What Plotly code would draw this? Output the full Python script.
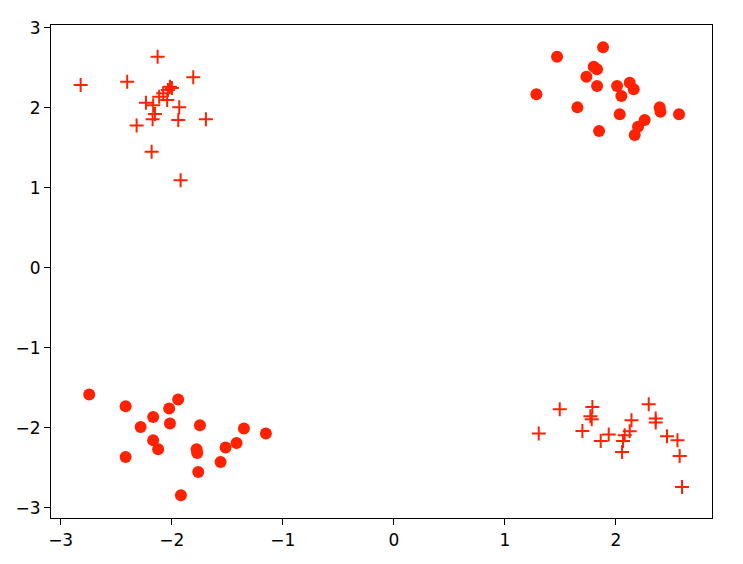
import plotly.graph_objects as go

# cluster data
plus_tl_x = [-2.127, -2.820, -2.401, -1.806, -2.016, -2.034, -1.998, -2.077, -2.113, -2.041,
             -2.232, -2.167, -1.932, -2.151, -2.172, -1.941, -1.692, -2.316, -2.181, -1.920]
plus_tl_y = [2.638, 2.284, 2.325, 2.380, 2.263, 2.221, 2.246, 2.180, 2.138, 2.096,
             2.063, 2.030, 2.005, 1.921, 1.855, 1.846, 1.855, 1.780, 1.450, 1.096]

dot_tr_x = [1.884, 1.470, 1.800, 1.830, 1.734, 1.830, 1.284, 2.010, 2.124, 2.160,
            2.049, 1.653, 2.394, 2.401, 2.568, 2.034, 2.259, 2.199, 2.169, 1.848]
dot_tr_y = [2.755, 2.638, 2.513, 2.480, 2.388, 2.271, 2.168, 2.271, 2.313, 2.230,
            2.146, 2.005, 2.005, 1.950, 1.918, 1.918, 1.846, 1.763, 1.659, 1.709]

dot_bl_x = [-2.743, -2.415, -1.942, -2.023, -2.167, -2.280, -2.016, -1.746, -1.350, -1.152,
            -2.167, -2.122, -1.776, -1.770, -1.515, -1.416, -1.560, -2.415, -1.761, -1.917]
dot_bl_y = [-1.583, -1.729, -1.645, -1.758, -1.863, -1.988, -1.945, -1.966, -2.008, -2.070,
            -2.154, -2.266, -2.266, -2.313, -2.245, -2.188, -2.425, -2.363, -2.550, -2.841]

plus_br_x = [1.494, 1.305, 1.788, 1.770, 1.782, 1.698, 1.863, 1.935, 2.140, 2.124,
             2.079, 2.064, 2.055, 2.295, 2.358, 2.358, 2.460, 2.554, 2.574, 2.595]
plus_br_y = [-1.766, -2.070, -1.738, -1.854, -1.891, -2.038, -2.163, -2.083, -1.904, -2.041,
             -2.091, -2.163, -2.300, -1.704, -1.883, -1.933, -2.104, -2.154, -2.350, -2.738]

color = 'rgb(255,34,0)'

fig = go.Figure()

# circles
fig.add_trace(go.Scatter(
    x=dot_tr_x + dot_bl_x,
    y=dot_tr_y + dot_bl_y,
    mode='markers',
    marker=dict(symbol='circle', size=12, color=color, line=dict(width=0))
))

# pluses
fig.add_trace(go.Scatter(
    x=plus_tl_x + plus_br_x,
    y=plus_tl_y + plus_br_y,
    mode='markers',
    marker=dict(symbol='cross-thin', size=10, line=dict(color=color, width=2))
))

axis_style = dict(
    showgrid=False, zeroline=False, automargin=False,
    showline=True, linecolor='black', linewidth=1.2, mirror=True,
    ticks='outside', ticklen=6, tickwidth=1.2, tickcolor='black',
    tickfont=dict(family='DejaVu Sans', size=17, color='black'),
)

# page body has an 8px margin, so the figure is shrunk and shifted to fit
fig.update_layout(
    width=727, height=548,
    margin=dict(l=43, r=23, t=17, b=38),
    paper_bgcolor='white', plot_bgcolor='white',
    showlegend=False,
    xaxis=dict(range=[-3.087, 2.865], tickmode='array', tickvals=[-3, -2, -1, 0, 1, 2], **axis_style),
    yaxis=dict(range=[-3.125, 3.034], tickmode='array', tickvals=[-3, -2, -1, 0, 1, 2, 3], **axis_style),
)

fig.write_html("out.html")
